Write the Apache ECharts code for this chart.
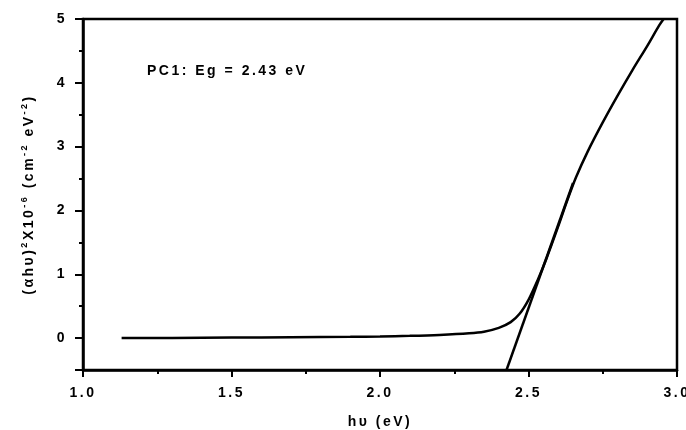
<!DOCTYPE html>
<html>
<head>
<meta charset="utf-8">
<script src="https://cdn.jsdelivr.net/npm/echarts@6/dist/echarts.min.js"></script>
<style>
html,body{margin:0;padding:0;background:#fff;}
#chart{width:686px;height:430px;}
</style>
</head>
<body>
<div id="chart"></div>
<script>
// Absorption curve (hν in eV, (αhν)^2 x 10^-6)
const curveX = [1.13, 1.3, 1.5, 1.7, 1.9, 2.0, 2.1, 2.2, 2.3, 2.35, 2.4, 2.44, 2.47, 2.5, 2.53, 2.56, 2.6, 2.63, 2.66, 2.7, 2.75, 2.8, 2.85, 2.9, 2.94, 2.955];
const curveY = [0.0, 0.003, 0.008, 0.013, 0.02, 0.025, 0.035, 0.05, 0.075, 0.1, 0.16, 0.25, 0.38, 0.6, 0.9, 1.24, 1.75, 2.15, 2.52, 2.93, 3.38, 3.8, 4.2, 4.58, 4.9, 5.0];
// Linear extrapolation line
const fitX = [2.426, 2.65];
const fitY = [-0.5, 2.43];
// Axis settings
const xTicks = [1.0, 1.5, 2.0, 2.5, 3.0];
const yTicks = [0, 1, 2, 3, 4, 5];
const annotation = 'PC1: Eg = 2.43 eV';

// letter-spaced text like the reference
(function(){
  const proto = CanvasRenderingContext2D.prototype;
  const desc = Object.getOwnPropertyDescriptor(proto, 'font');
  if (desc && 'letterSpacing' in proto) {
    Object.defineProperty(proto, 'font', {
      configurable:true,
      get(){ return desc.get.call(this); },
      set(v){ desc.set.call(this, v); this.letterSpacing = '2.5px'; }
    });
  }
})();

const FONT = '"Liberation Sans", Arial, sans-serif';
const labelStyle = {color:'#000', fontWeight:'bold', fontSize:14, fontFamily:FONT};

const chart = echarts.init(document.getElementById('chart'), null, {renderer:'canvas'});
chart.setOption({
  animation:false,
  backgroundColor:'#fff',
  grid:{left:83, right:9, top:19, bottom:60, containLabel:false, outerBoundsMode:'none',
        show:true, borderColor:'#000', borderWidth:2.5, backgroundColor:'transparent'},
  xAxis:[{
    type:'value', min:xTicks[0], max:xTicks[xTicks.length-1], interval:0.5,
    axisLine:{show:true, onZero:false, lineStyle:{color:'#000', width:2.5}},
    axisTick:{show:true, inside:false, length:7, lineStyle:{color:'#000', width:2}},
    minorTick:{show:true, splitNumber:2, length:4, lineStyle:{color:'#000', width:2}},
    splitLine:{show:false},
    axisLabel:Object.assign({margin:15, formatter:v=>v.toFixed(1)}, labelStyle),
    name:'hυ (eV)', nameLocation:'middle', nameGap:44,
    nameTextStyle:{color:'#000', fontWeight:'bold', fontSize:14, fontFamily:FONT}
  }],
  yAxis:[{
    type:'value', min:-0.5, max:yTicks[yTicks.length-1], splitNumber:5,
    axisLine:{show:true, onZero:false, lineStyle:{color:'#000', width:2.5}},
    axisTick:{show:true, inside:false, length:8, lineStyle:{color:'#000', width:2}},
    splitLine:{show:false},
    axisLabel:Object.assign({margin:16, formatter:v=>(Number.isInteger(v)&&yTicks.includes(v))?String(v):''}, labelStyle),
    name:'(αhυ){sup|2}X10{sup|-6} (cm{sup|-2} eV{sup|-2})', nameLocation:'middle', nameGap:44, nameRotate:90,
    nameTextStyle:{color:'#000', fontWeight:'bold', fontSize:14, fontFamily:FONT, lineHeight:20,
      rich:{sup:{fontSize:9, fontWeight:'bold', fontFamily:FONT, color:'#000', verticalAlign:'top', lineHeight:10, padding:[0,0,13,0]}}}
  },{
    type:'value', min:-0.5, max:5, interval:0.5, position:'left',
    axisLine:{show:false, onZero:false},
    axisTick:{show:true, inside:false, length:4, lineStyle:{color:'#000', width:2}},
    axisLabel:{show:false}, splitLine:{show:false}
  }],
  graphic:[{
    type:'text', left:147, top:63,
    style:{text:annotation, fill:'#000', font:'bold 14px '+FONT}
  }],
  series:[{
    type:'line', xAxisIndex:0, yAxisIndex:0, showSymbol:false, smooth:0.3,
    data:curveX.map((x,i)=>[x,curveY[i]]),
    lineStyle:{color:'#000', width:2.5}
  },{
    type:'line', xAxisIndex:0, yAxisIndex:0, showSymbol:false,
    data:fitX.map((x,i)=>[x,fitY[i]]),
    lineStyle:{color:'#000', width:2.5}
  }]
});
</script>
</body>
</html>
